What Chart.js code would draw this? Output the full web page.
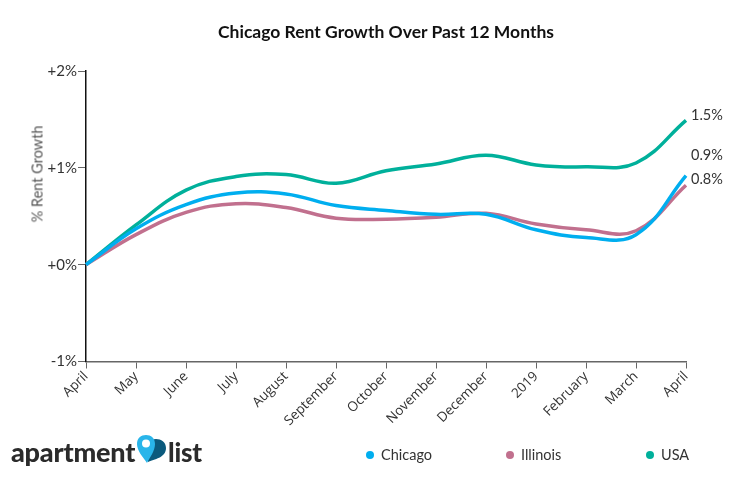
<!DOCTYPE html>
<html>
<head>
<meta charset="utf-8">
<title>Chicago Rent Growth</title>
<script src="https://cdn.jsdelivr.net/npm/chart.js@4"></script>
<style>
  html, body { margin: 0; padding: 0; background: #fff; }
  #wrap { position: relative; width: 746px; height: 481px; overflow: hidden; font-family: Lato, sans-serif; color: #222; }
  #title { position: absolute; left: 0; width: 772px; top: 21px; text-align: center; font-size: 17.5px; font-weight: 700; color: #111; }
  #axisName { position: absolute; left: 37px; top: 174px; transform: translate(-50%, -50%) rotate(-90deg); font-size: 14.5px; font-weight: 400; color: #555; white-space: nowrap; }
  .logo { position: absolute; top: 434px; font-size: 27px; font-weight: 900; color: #2b2b2b; line-height: 36px; letter-spacing: -0.2px; }
  #pin { position: absolute; left: 136px; top: 434px; }
  .key { position: absolute; top: 446px; font-size: 14.5px; color: #333; line-height: 18px; }
  .key i { position: absolute; left: -15px; top: 5px; width: 8px; height: 8px; border-radius: 50%; }
</style>
</head>
<body>
<div id="wrap">
  <canvas id="rentChart" width="746" height="481"></canvas>
  <div id="title">Chicago Rent Growth Over Past 12 Months</div>
  <div id="axisName">% Rent Growth</div>
  <div class="logo" style="left:11px">apartment</div>
  <svg id="pin" width="32" height="30" viewBox="0 0 32 30">
    <path d="M12 28 C18 25 30 24 30 14 C30 8 25 5 20 5 C14 5 10 12 12 28 Z" fill="#0b5a7d"/>
    <path d="M11 29 C7 23 1 17 1 10 C1 4 5 1 10 1 C15 1 19 4 19 10 C19 17 14 23 11 29 Z" fill="#29b5ea"/>
    <circle cx="10" cy="9.5" r="4" fill="#fff"/>
  </svg>
  <div class="logo" style="left:168px;font-size:26px">list</div>
  <div id="legend"></div>
</div>
<script>
// values, % growth since April
const months = ['April', 'May', 'June', 'July', 'August', 'September', 'October', 'November', 'December', '2019', 'February', 'March', 'April'];
const chicago = [0, 0.37, 0.62, 0.74, 0.73, 0.61, 0.56, 0.52, 0.52, 0.36, 0.28, 0.31, 0.92];
const illinois = [0, 0.31, 0.54, 0.63, 0.59, 0.48, 0.47, 0.49, 0.53, 0.42, 0.36, 0.35, 0.82];
const usa = [0, 0.41, 0.77, 0.91, 0.93, 0.84, 0.97, 1.04, 1.13, 1.03, 1.01, 1.05, 1.49];
const endLabels = ['0.9%', '0.8%', '1.5%'];
const seriesNames = ['Chicago', 'Illinois', 'USA'];
const seriesColors = ['#00aeef', '#c1708e', '#00b09b'];

// legend is plain html, spacing is not what chart.js gives
const legendX = [381, 521, 661];
document.getElementById('legend').innerHTML = seriesNames.map((name, i) =>
    `<div class="key" style="left:${legendX[i]}px"><i style="background:${seriesColors[i]}"></i>${name}</div>`
).join('');

// text at the end of each line
const endLabelPlugin = {
    id: 'endLabels',
    afterDatasetsDraw(chart) {
        const ctx = chart.ctx;
        const nudge = [-20, -6, -5];
        ctx.save();
        ctx.font = '14.5px Lato, sans-serif';
        ctx.fillStyle = '#333';
        ctx.textBaseline = 'middle';
        chart.data.datasets.forEach((ds, i) => {
            const pt = chart.getDatasetMeta(i).data[ds.data.length - 1];
            ctx.fillText(endLabels[i], pt.x + 5, pt.y + nudge[i]);
        });
        ctx.restore();
    }
};

const ctx = document.getElementById('rentChart').getContext('2d');
new Chart(ctx, {
    type: 'line',
    plugins: [endLabelPlugin],
    data: {
        labels: months,
        datasets: [chicago, illinois, usa].map((values, i) => ({
            label: seriesNames[i],
            data: values,
            borderColor: seriesColors[i],
            borderWidth: 3.5,
            pointRadius: 0,
            tension: 0.4,
            clip: false
        }))
    },
    options: {
        responsive: false,
        animation: false,
        layout: { padding: { top: 71, right: 60, bottom: 0, left: 0 } },
        plugins: { legend: { display: false }, title: { display: false }, tooltip: { enabled: false } },
        scales: {
            x: {
                afterFit: (scale) => { scale.height = 119.5; },
                border: { color: '#666', width: 1.5 },
                grid: { drawOnChartArea: false, tickLength: 7, tickColor: '#666' },
                ticks: {
                    autoSkip: false,
                    maxRotation: 45,
                    minRotation: 45,
                    color: '#333',
                    padding: 0,
                    font: { family: '"Open Sans", sans-serif', size: 13.5 }
                }
            },
            y: {
                min: -1,
                max: 2,
                afterFit: (scale) => { scale.width = 86; },
                border: { color: '#111', width: 1.5 },
                grid: { drawOnChartArea: false, tickLength: 8, tickColor: '#666' },
                ticks: {
                    stepSize: 1,
                    color: '#333',
                    padding: 1,
                    font: { family: 'Lato, sans-serif', size: 15 },
                    callback: (v) => (v < 0 ? '-' : '+') + Math.abs(v) + '%'
                }
            }
        }
    }
});
</script>
</body>
</html>
